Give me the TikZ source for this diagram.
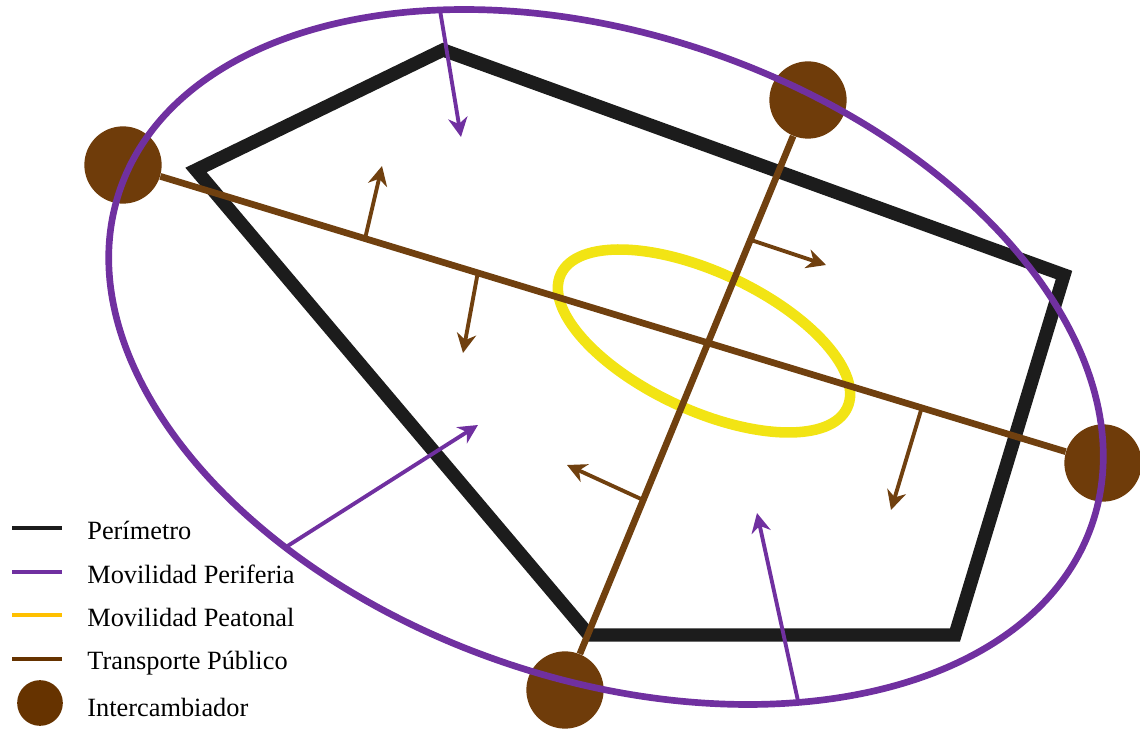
\documentclass[tikz,border=0pt]{standalone}
\usepackage{fontspec}
\setmainfont{Liberation Serif}
\usetikzlibrary{arrows.meta,calc}
\definecolor{per}{HTML}{1C1C1C}
\definecolor{prf}{HTML}{7030A0}
\definecolor{pea}{HTML}{F2E414}
\definecolor{peaL}{HTML}{FFC000}
\definecolor{trp}{HTML}{70400F}
\definecolor{icb}{HTML}{6F3C0A}
\definecolor{icbL}{HTML}{663300}
\tikzset{
  perim/.style={draw=per, line width=7.6pt, line join=miter},
  perif/.style={draw=prf, line width=3.8pt},
  peat/.style={draw=pea, line width=6pt},
  trans/.style={draw=trp, line width=3.8pt},
  tflow/.style={draw=trp, line width=2.2pt, -{Stealth[length=11pt, width=11pt, inset=3.5pt]}},
  pflow/.style={draw=prf, line width=2.2pt, -{Stealth[length=11pt, width=11pt, inset=3.5pt]}},
  inter/.style={circle, fill=icb, minimum size=44pt, inner sep=0pt},
  ley/.style={anchor=base west, inner sep=0pt, font=\fontsize{15}{18}\selectfont}}

\begin{document}
\begin{tikzpicture}[x=0.02cm, y=-0.02cm]
\useasboundingbox (0,0) rectangle (1140,732);
% perimetro
\draw[perim] (196,170) -- (443,50) -- (1064,275) -- (955,635) -- (589,635) -- cycle;
% movilidad peatonal
\draw[peat, rotate around={-25:(704,341)}] (704,341) ellipse [x radius=158, y radius=69];
% intercambiadores y transporte publico
\node[inter] (icW) at (123,165) {};
\node[inter] (icN) at (808,100) {};
\node[inter] (icE) at (1103,463) {};
\node[inter] (icS) at (565,690) {};
\draw[trans] (icW) -- (icE);
\draw[trans] (icN) -- (icS);
\coordinate (ta) at ($(icW.center)!0.247!(icE.center)$);
\coordinate (tb) at ($(icW.center)!0.362!(icE.center)$);
\coordinate (tc) at ($(icW.center)!0.815!(icE.center)$);
\coordinate (td) at ($(icN.center)!0.237!(icS.center)$);
\coordinate (te) at ($(icN.center)!0.678!(icS.center)$);
\coordinate (taTip) at (382,166);
\coordinate (tbTip) at (463,353);
\coordinate (tcTip) at (891,510);
\coordinate (tdTip) at (826,265);
\coordinate (teTip) at (567,465);
\draw[tflow] (ta) -- (taTip);
\draw[tflow] (tb) -- (tbTip);
\draw[tflow] (tc) -- (tcTip);
\draw[tflow] (td) -- (tdTip);
\draw[tflow] (te) -- (teTip);
% movilidad periferia
\draw[perif, rotate around={-19:(606,357)}] (606,357) ellipse [x radius=514, y radius=322];
\coordinate (pa) at (440,10);
\coordinate (pb) at (286,547);
\coordinate (pc) at (798,701);
\coordinate (paTip) at (461,137);
\coordinate (pbTip) at (478,425);
\coordinate (pcTip) at (757,513);
\draw[pflow] (pa) -- (paTip);
\draw[pflow] (pb) -- (pbTip);
\draw[pflow] (pc) -- (pcTip);
% leyenda
\draw[draw=per, line width=2.3pt] (12,528) -- (62,528);
\draw[draw=prf, line width=2.3pt] (12,572) -- (62,572);
\draw[draw=peaL, line width=2pt] (12,615) -- (62,615);
\draw[draw=icbL, line width=2.3pt] (12,659) -- (62,659);
\node[circle, fill=icbL, minimum size=26pt, inner sep=0pt] (legIc) at (40,703) {};
\node[ley] (lPer) at (87,540) {Perímetro};
\node[ley] (lPrf) at (87,584) {Movilidad Periferia};
\node[ley] (lPea) at (87,627) {Movilidad Peatonal};
\node[ley] (lTrp) at (87,670) {Transporte Público};
\node[ley] (lIc) at (87,717) {Intercambiador};
\end{tikzpicture}
\end{document}
